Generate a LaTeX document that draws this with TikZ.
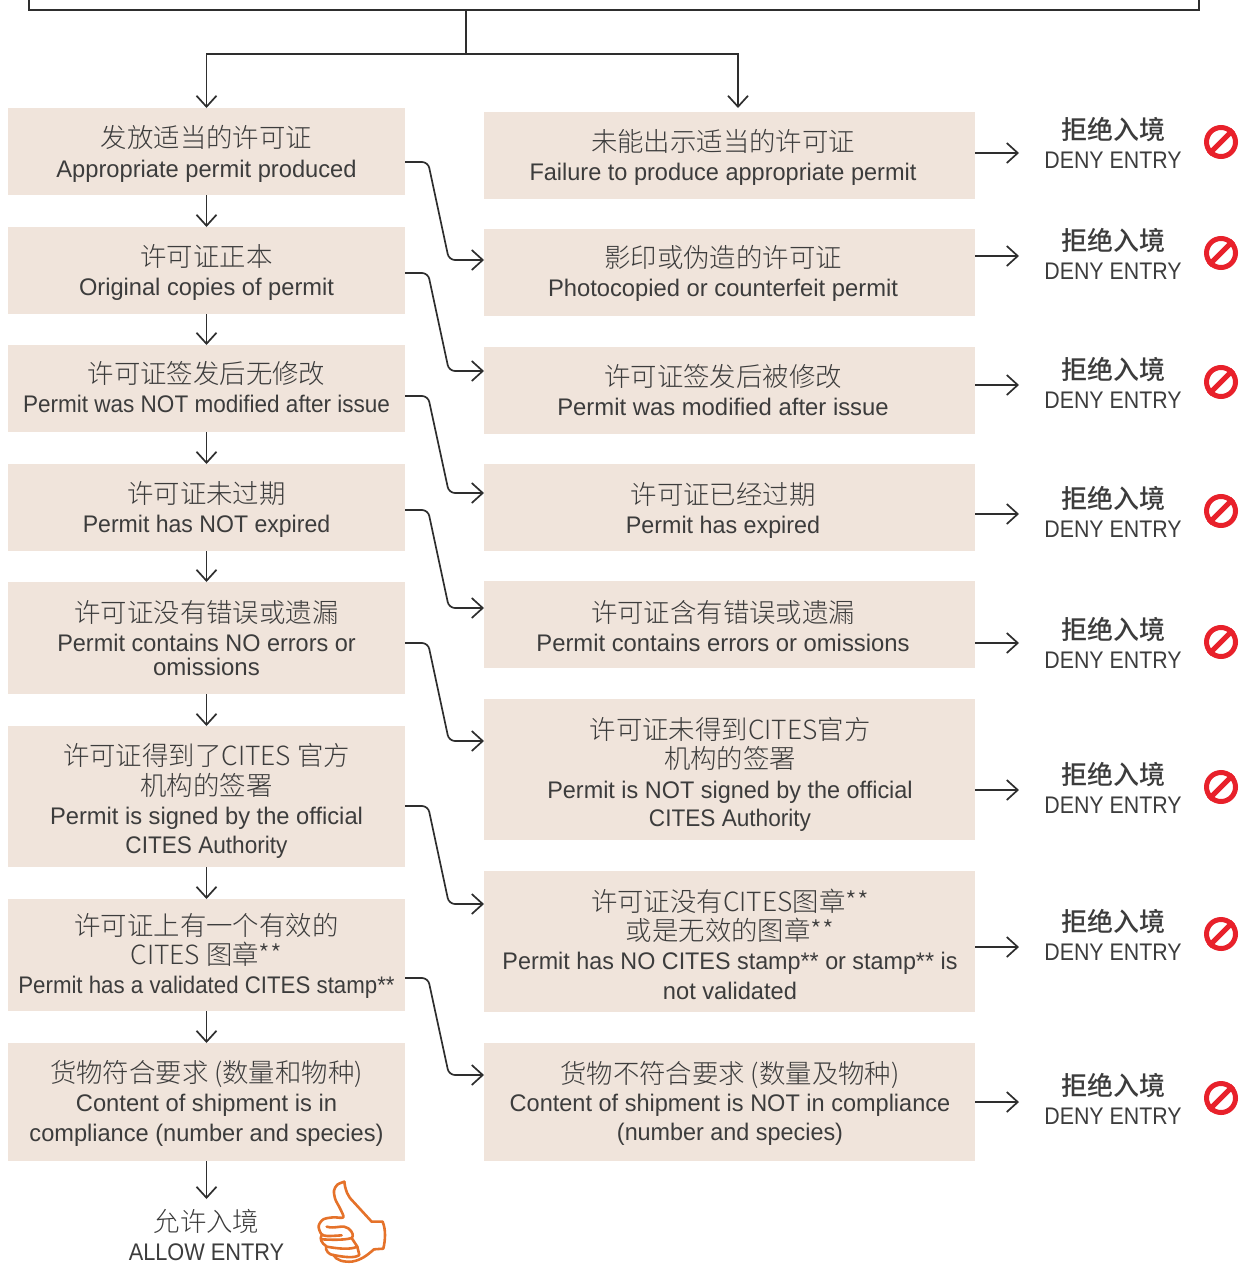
\documentclass[tikz,border=0pt]{standalone}
\usepackage{graphicx}
\usepackage{fontspec}
\setmainfont{Liberation Sans}
\newfontfamily\cjkl[UprightFont={* Light}]{Noto Sans CJK SC}
\newfontfamily\cjkr[UprightFont={* Medium}]{Noto Sans CJK SC}
\usetikzlibrary{arrows.meta}
\definecolor{boxfill}{HTML}{F0E4DB}
\definecolor{ink}{HTML}{3C3C3C}
\definecolor{linec}{HTML}{2E2E2E}
\definecolor{stopred}{HTML}{E8212B}
\definecolor{thumbc}{HTML}{E5722A}
\tikzset{
  panel/.style={fill=boxfill,draw=none,inner sep=0pt,outer sep=0pt,anchor=north west},
  zhtext/.style={anchor=base,inner sep=0pt,text=ink,font=\cjkl\fontsize{26.4}{30}\selectfont},
  entext/.style={anchor=base,inner sep=0pt,text=ink,font=\fontsize{24}{28}\selectfont},
  denyzh/.style={anchor=base,inner sep=0pt,text=ink,font=\cjkr\fontsize{26}{30}\selectfont},
  conn/.style={draw=linec,line width=1.7pt,-{Straight Barb[length=11pt,width=20pt,line width=1.7pt]}},
  stopring/.style={circle,draw=stopred,line width=5pt,minimum size=29pt,inner sep=0pt},
}
\newcommand{\pbox}[4]{\node[panel,minimum width=#2pt,minimum height=#4pt] (#1) at #3 {};}
\newcommand{\zl}[4]{\node[zhtext] (#1) at (#2,#3+10) {#4};}
\newcommand{\el}[5][1]{\node[entext] (#2) at (#3,#4+8) {\scalebox{#1}[1]{#5}};}
\newcommand{\elbow}[4]{\draw[conn,rounded corners=6pt] ([yshift=-#2pt]#1.north east) -- ++(23,0) -- ([xshift=-35pt,yshift=-#4pt]#3.north west) -- ([yshift=-#4pt]#3.north west);}
\newcommand{\denyrow}[5]{%
  \coordinate (#1t) at (1019,#3);
  \draw[conn] (#2.east |- #1t) -- (#1t);
  \node[denyzh] (#1z) at (1113,#4+10) {拒绝入境};
  \el[.89]{#1e}{1113}{#4+31}{DENY ENTRY}
  \node[stopring] (#1s) at (1221,#5) {};
  \draw[stopred,line width=5pt] (#1s.south west) -- (#1s.north east);
}
\begin{document}
\begin{tikzpicture}[x=1pt,y=-1pt]
\useasboundingbox (0,0) rectangle (1241,1264);
% left boxes
\pbox{a1}{397}{(8,108)}{87}
\pbox{a2}{397}{(8,227)}{87}
\pbox{a3}{397}{(8,345)}{87}
\pbox{a4}{397}{(8,464)}{87}
\pbox{a5}{397}{(8,582)}{112}
\pbox{a6}{397}{(8,726)}{141}
\pbox{a7}{397}{(8,899)}{112}
\pbox{a8}{397}{(8,1043)}{118}
% right boxes
\pbox{b1}{491}{(484,112)}{87}
\pbox{b2}{491}{(484,229)}{87}
\pbox{b3}{491}{(484,347)}{87}
\pbox{b4}{491}{(484,464)}{87}
\pbox{b5}{491}{(484,581)}{87}
\pbox{b6}{491}{(484,699)}{141}
\pbox{b7}{491}{(484,871)}{141}
\pbox{b8}{491}{(484,1043)}{118}
% top frame
\draw[draw=linec,line width=1.5pt] (29,0) -- (29,10) -- (1199,10) -- (1199,0);
\coordinate (topout) at (466,10);
\coordinate (split) at (466,54);
\draw[draw=linec,line width=1.7pt] (topout) -- (split);
\draw[conn] (split) -| (a1.north);
\draw[conn] (split) -| (738,108);
% left text
\zl{a1z}{206.5}{137}{发放适当的许可证}
\el[.987]{a1e}{206.5}{169}{Appropriate permit produced}
\zl{a2z}{206.5}{256}{许可证正本}
\el[.985]{a2e}{206.5}{287}{Original copies of permit}
\zl{a3z}{206.5}{373}{许可证签发后无修改}
\el[.939]{a3e}{206.5}{404}{Permit was NOT modified after issue}
\zl{a4z}{206.5}{493}{许可证未过期}
\el[.961]{a4e}{206.5}{524}{Permit has NOT expired}
\zl{a5z}{206.5}{612}{许可证没有错误或遗漏}
\el[.977]{a5e}{206.5}{643}{Permit contains NO errors or}
\el{a5f}{206.5}{667}{omissions}
\zl{a6z}{206.5}{755}{许可证得到了CITES 官方}
\zl{a6y}{206.5}{785}{机构的签署}
\el[.987]{a6e}{206.5}{816}{Permit is signed by the official}
\el[.942]{a6f}{206.5}{845}{CITES Authority}
\zl{a7z}{206.5}{925}{许可证上有一个有效的}
\zl{a7y}{206.5}{954}{CITES 图章**}
\el[.928]{a7e}{206.5}{985}{Permit has a validated CITES stamp**}
\zl{a8z}{206.5}{1072}{货物符合要求 (数量和物种)}
\el[.989]{a8e}{206.5}{1103}{Content of shipment is in}
\el[.983]{a8f}{206.5}{1133}{compliance (number and species)}
% right text
\zl{b1z}{723}{141}{未能出示适当的许可证}
\el[.98]{b1e}{723}{172}{Failure to produce appropriate permit}
\zl{b2z}{723}{257}{影印或伪造的许可证}
\el[.99]{b2e}{723}{288}{Photocopied or counterfeit permit}
\zl{b3z}{723}{376}{许可证签发后被修改}
\el[.994]{b3e}{723}{407}{Permit was modified after issue}
\zl{b4z}{723}{494}{许可证已经过期}
\el[.97]{b4e}{723}{525}{Permit has expired}
\zl{b5z}{723}{612}{许可证含有错误或遗漏}
\el[.992]{b5e}{723}{643}{Permit contains errors or omissions}
\zl{b6z}{730}{729}{许可证未得到CITES官方}
\zl{b6y}{730}{758}{机构的签署}
\el[.976]{b6e}{730}{790}{Permit is NOT signed by the official}
\el[.942]{b6f}{730}{818}{CITES Authority}
\zl{b7z}{730}{901}{许可证没有CITES图章**}
\zl{b7y}{730}{930}{或是无效的图章**}
\el[.972]{b7e}{730}{961}{Permit has NO CITES stamp** or stamp** is}
\el[.985]{b7f}{730}{991}{not validated}
\zl{b8z}{730}{1073}{货物不符合要求 (数量及物种)}
\el[.98]{b8e}{730}{1103}{Content of shipment is NOT in compliance}
\el[.974]{b8f}{730}{1132}{(number and species)}
% vertical arrows
\draw[conn] (a1.south) -- (a2.north);
\draw[conn] (a2.south) -- (a3.north);
\draw[conn] (a3.south) -- (a4.north);
\draw[conn] (a4.south) -- (a5.north);
\draw[conn] (a5.south) -- (a6.north);
\draw[conn] (a6.south) -- (a7.north);
\draw[conn] (a7.south) -- (a8.north);
\coordinate (allowt) at (206.5,1199);
\draw[conn] (a8.south) -- (allowt);
% elbows
\elbow{a1}{54}{b2}{31}
\elbow{a2}{46}{b3}{24}
\elbow{a3}{51}{b4}{29}
\elbow{a4}{46}{b5}{27}
\elbow{a5}{61}{b6}{42}
\elbow{a6}{80}{b7}{33}
\elbow{a7}{79}{b8}{32}
% deny rows
\denyrow{d1}{b1}{153}{129}{142}
\denyrow{d2}{b2}{256}{240}{253}
\denyrow{d3}{b3}{385}{369}{382}
\denyrow{d4}{b4}{514}{498}{511}
\denyrow{d5}{b5}{643}{629}{642}
\denyrow{d6}{b6}{790}{774}{787}
\denyrow{d7}{b7}{947}{921}{934}
\denyrow{d8}{b8}{1102}{1085}{1098}
% allow
\zl{allz}{206.5}{1221}{允许入境}
\el[.906]{alle}{206.5}{1252}{ALLOW ENTRY}
% thumb
\begin{scope}[xshift=280pt,yshift=-1160pt,x=0.3333pt,y=-0.3333pt,draw=thumbc,line width=2.6pt,line join=round,line cap=round]
\draw plot[smooth,tension=0.5] coordinates {(193,65) (172,74) (162,92) (166,118) (180,145) (190,172) (160,172) (130,178) (116,198) (124,222) (142,228) (185,226)};
\draw (193,65) .. controls (196,90) and (202,108) .. (220,125) -- (275,185) -- (308,185) .. controls (318,210) and (316,240) .. (310,266) -- (282,268) .. controls (262,285) and (245,300) .. (215,305) .. controls (190,306) and (170,302) .. (160,285) .. controls (148,285) and (135,272) .. (138,258) .. controls (125,250) and (118,235) .. (125,226);
\draw (140,200) .. controls (165,208) and (190,192) .. (205,205) .. controls (218,215) and (222,228) .. (215,234) .. controls (195,240) and (165,240) .. (125,238);
\draw (215,234) -- (232,260) .. controls (210,270) and (175,266) .. (140,260);
\draw (232,260) -- (238,285) .. controls (225,295) and (195,292) .. (160,285);
\end{scope}
\end{tikzpicture}
\end{document}
